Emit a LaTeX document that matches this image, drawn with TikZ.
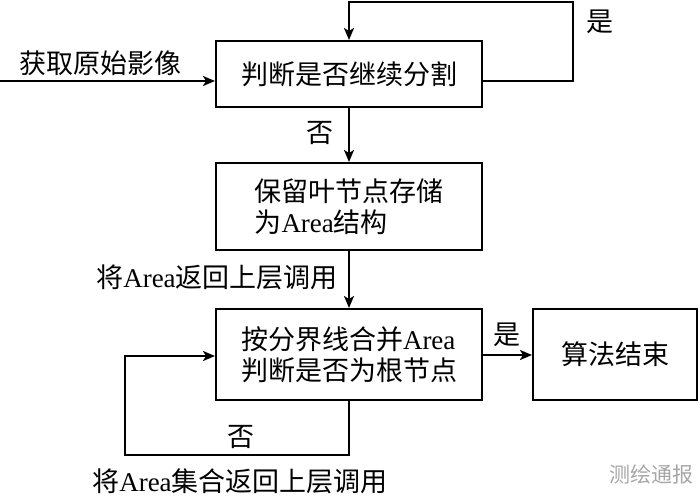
\documentclass[tikz,border=0pt]{standalone}
\usepackage{fontspec}
\setmainfont{Liberation Serif}
\newfontfamily\cjk{Noto Sans CJK SC}
\usetikzlibrary{arrows.meta}
\tikzset{
  box/.style={draw, line width=2pt, minimum width=266pt, inner sep=0pt, font=\fontsize{27}{31}\selectfont},
  lbl/.style={inner sep=0pt, font=\fontsize{27}{31}\selectfont},
  arr/.style={line width=2pt, -{Stealth[length=12pt,width=10pt,inset=3pt]}},
  ln/.style={line width=2pt}
}
\begin{document}
\begin{tikzpicture}[x=1pt,y=-1pt]
\useasboundingbox (0,0) rectangle (700,498);
\node[box, minimum height=66pt] (b1) at (349,74) {\cjk 判断是否继续分割};
\node[box, minimum height=87pt, align=left] (b2) at (349,206.5) {{\cjk 保留叶节点存储}\\[0pt]{\cjk 为}Area{\cjk 结构}};
\node[box, minimum height=91pt, align=left] (b3) at (349,354.5) {{\cjk 按分界线合并}Area\\[0pt]{\cjk 判断是否为根节点}};
\node[box, minimum width=164pt, minimum height=91pt] (b4) at (615,354.5) {\cjk 算法结束};
% input
\coordinate (in) at (0,81);
\draw[arr] (in) -- (in -| b1.west);
\node[lbl] (tin) at (100,63) {\cjk 获取原始影像};
% top loop
\coordinate (t1) at (573,81);
\coordinate (t2) at (573,2);
\coordinate (t3) at (349,2);
\draw[arr] (t1 -| b1.east) -- (t1) -- (t2) -- (t3) -- (b1.north);
\node[lbl] (tyes1) at (600,22) {\cjk 是};
% down arrows
\draw[arr] (b1.south) -- (b2.north);
\node[lbl] (tno1) at (320,133) {\cjk 否};
\draw[arr] (b2.south) -- (b3.north);
\node[lbl] (tret1) at (217,277) {{\cjk 将}Area{\cjk 返回上层调用}};
% to end
\coordinate (r1) at (0,355);
\draw[arr] (r1 -| b3.east) -- (r1 -| b4.west);
\node[lbl] (tyes2) at (507,335) {\cjk 是};
% bottom loop
\coordinate (l1) at (349,455);
\coordinate (l2) at (125,455);
\coordinate (l3) at (125,356);
\draw[arr] (b3.south) -- (l1) -- (l2) -- (l3) -- (l3 -| b3.west);
\node[lbl] (tno2) at (241,437) {\cjk 否};
\node[lbl] (tret2) at (240,481) {{\cjk 将}Area{\cjk 集合返回上层调用}};
% watermark
\node[inner sep=0pt, text=black!35, font=\cjk\fontsize{21}{24}\selectfont] (wm) at (651,474) {测绘通报};
\end{tikzpicture}
\end{document}
